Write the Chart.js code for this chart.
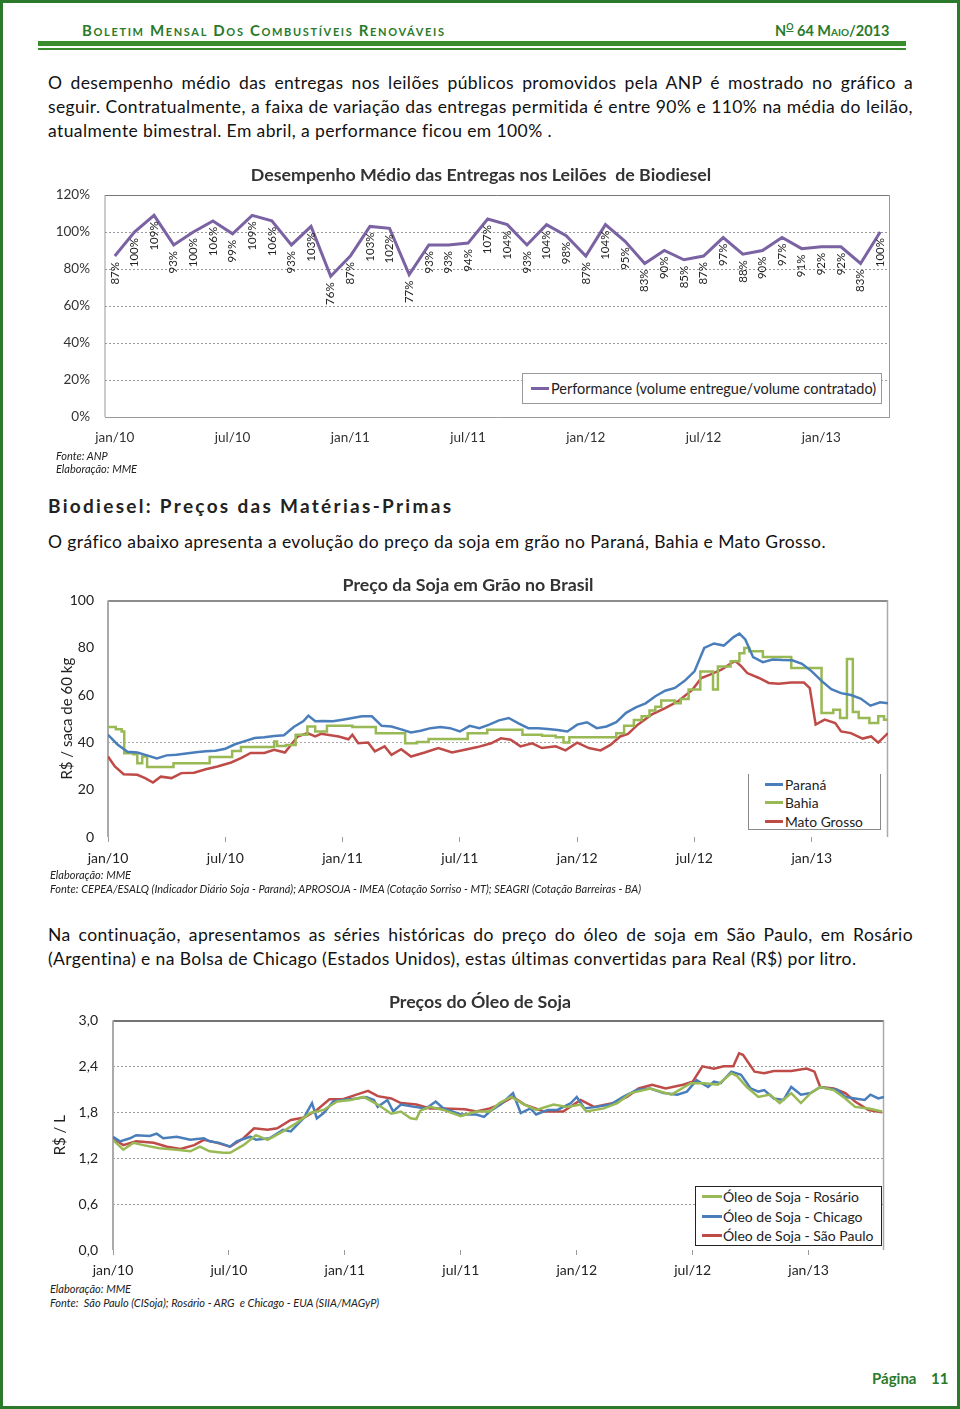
<!DOCTYPE html>
<html><head><meta charset="utf-8">
<script src="https://cdn.jsdelivr.net/npm/chart.js@4.4.0/dist/chart.umd.min.js"></script>
<style>
html,body{margin:0;padding:0;background:#fff;}
body{width:960px;height:1409px;position:relative;overflow:hidden;font-family:Lato,'Open Sans',sans-serif;color:#111;}
.frame{position:absolute;left:0;top:0;width:954px;height:1403px;border:3px solid #2b7a2b;}
.abs{position:absolute;white-space:nowrap;}
.ln{position:absolute;left:48px;width:865px;font-size:17.5px;letter-spacing:0.4px;line-height:24px;height:24px;color:#111;white-space:nowrap;}
.j{text-align:justify;text-align-last:justify;}
canvas{position:absolute;}
.src{position:absolute;font-style:italic;font-size:11px;color:#222;white-space:nowrap;line-height:14px;}
.ctitle{position:absolute;font-weight:bold;font-size:17.8px;color:#333;transform:translate(-50%,-50%);white-space:nowrap;}
.leg{position:absolute;background:#fff;color:#222;z-index:5;box-sizing:border-box;}
.leg .row{display:flex;align-items:center;white-space:nowrap;}
.leg .sw{display:inline-block;width:18px;height:3px;margin-right:2px;}
</style></head>
<body>
<div class="frame"></div>
<div class="abs" style="left:82px;top:21px;font-size:15px;font-weight:bold;font-variant:small-caps;letter-spacing:1.65px;color:#2a7a2a;">Boletim Mensal Dos Combustíveis Renováveis</div>
<div class="abs" style="left:775px;top:21px;font-size:14.5px;font-weight:bold;color:#2a7a2a;">N<sup style="font-size:9px;text-decoration:underline;">O</sup> 64 <span style="font-variant:small-caps;">Maio</span>/2013</div>
<div class="abs" style="left:38px;top:41px;width:868px;height:5px;background:#3a8a2e;"></div>
<div class="abs" style="left:38px;top:48px;width:868px;height:1.5px;background:#3a8a2e;"></div>

<div class="ln j" style="top:71px;">O desempenho médio das entregas nos leilões públicos promovidos pela ANP é mostrado no gráfico a</div>
<div class="ln j" style="top:95px;">seguir. Contratualmente, a faixa de variação das entregas permitida é entre 90% e 110% na média do leilão,</div>
<div class="ln" style="top:119px;">atualmente bimestral. Em abril, a performance ficou em 100% .</div>

<canvas id="c1" width="880" height="300" style="left:40px;top:150px;"></canvas>
<canvas id="c2" width="870" height="292" style="left:40px;top:578px;"></canvas>
<canvas id="c3" width="870" height="283" style="left:40px;top:997px;"></canvas>

<div class="ctitle" style="left:481px;top:174px;">Desempenho Médio das Entregas nos Leilões&nbsp; de Biodiesel</div>
<div class="src" style="left:56px;top:449px;">Fonte: ANP</div>
<div class="src" style="left:56px;top:462px;">Elaboração: MME</div>

<div class="abs" style="left:48px;top:494px;font-size:19px;font-weight:bold;letter-spacing:2.3px;color:#222;">Biodiesel: Preços das Matérias-Primas</div>
<div class="ln" style="top:530px;">O gráfico abaixo apresenta a evolução do preço da soja em grão no Paraná, Bahia e Mato Grosso.</div>

<div class="ctitle" style="left:468px;top:584px;">Preço da Soja em Grão no Brasil</div>
<div class="src" style="left:50px;top:868px;">Elaboração: MME</div>
<div class="src" style="left:50px;top:882px;">Fonte: CEPEA/ESALQ (Indicador Diário Soja - Paraná); APROSOJA - IMEA (Cotação Sorriso - MT); SEAGRI (Cotação Barreiras - BA)</div>

<div class="ln j" style="top:923px;">Na continuação, apresentamos as séries históricas do preço do óleo de soja em São Paulo, em Rosário</div>
<div class="ln" style="top:947px;">(Argentina) e na Bolsa de Chicago (Estados Unidos), estas últimas convertidas para Real (R$) por litro.</div>

<div class="ctitle" style="left:480px;top:1001px;">Preços do Óleo de Soja</div>
<div class="src" style="left:50px;top:1282px;">Elaboração: MME</div>
<div class="src" style="left:50px;top:1296px;">Fonte:&nbsp; São Paulo (CISoja); Rosário - ARG&nbsp; e Chicago - EUA (SIIA/MAGyP)</div>

<div class="leg" style="left:522px;top:373px;width:360px;height:31px;border:1px solid #9a9a9a;font-size:14.5px;padding:0 0 0 8px;">
  <div class="row" style="height:29px;"><span class="sw" style="background:#7a62a3"></span>Performance (volume entregue/volume contratado)</div>
</div>
<div class="leg" style="left:748px;top:774px;width:133px;height:56px;border:1px solid #8a8a8a;border-top:none;font-size:13.8px;padding:1px 0 0 16px;">
  <div class="row" style="height:18.5px;"><span class="sw" style="background:#4a7ebb"></span>Paraná</div>
  <div class="row" style="height:18.5px;"><span class="sw" style="background:#98b954"></span>Bahia</div>
  <div class="row" style="height:18.5px;"><span class="sw" style="background:#be4b48"></span>Mato Grosso</div>
</div>
<div class="leg" style="left:695px;top:1186px;width:187px;height:60px;border:1px solid #222;font-size:14px;padding:0 0 0 6px;">
  <div class="row" style="height:19.5px;"><span class="sw" style="background:#98b954;width:20px;margin-right:1px;"></span>Óleo de Soja - Rosário</div>
  <div class="row" style="height:19.5px;"><span class="sw" style="background:#4a7ebb;width:20px;margin-right:1px;"></span>Óleo de Soja - Chicago</div>
  <div class="row" style="height:19.5px;"><span class="sw" style="background:#be4b48;width:20px;margin-right:1px;"></span>Óleo de Soja - São Paulo</div>
</div>

<div class="abs" style="left:872px;top:1369px;font-size:15px;font-weight:bold;color:#2a7a2a;">Página</div>
<div class="abs" style="left:931px;top:1369px;font-size:15px;font-weight:bold;color:#2a7a2a;">11</div>

<script>
// ---------- Chart 1: desempenho médio das entregas ----------
const perfMonths = ['jan/10','fev/10','mar/10','abr/10','mai/10','jun/10','jul/10','ago/10','set/10','out/10','nov/10','dez/10',
  'jan/11','fev/11','mar/11','abr/11','mai/11','jun/11','jul/11','ago/11','set/11','out/11','nov/11','dez/11',
  'jan/12','fev/12','mar/12','abr/12','mai/12','jun/12','jul/12','ago/12','set/12','out/12','nov/12','dez/12',
  'jan/13','fev/13','mar/13','abr/13'];
const perfValues = [87,100,109,93,100,106,99,109,106,93,103,76,87,103,102,77,93,93,94,107,104,93,104,98,87,104,95,83,90,85,87,97,88,90,97,91,92,92,83,100];

// ---------- Chart 2: preço da soja (months since jan/10, R$/saca 60 kg) ----------
const halfYearPos = [0,6,12,18,24,30,36];
const halfYearLabels = ['jan/10','jul/10','jan/11','jul/11','jan/12','jul/12','jan/13'];
const paranaT = [0,0.5,1,1.5,2,2.5,3,3.5,4,4.5,5,5.5,6,6.5,7,7.5,8,8.5,9,9.5,10,10.25,10.6,11,11.5,12,12.5,13,13.5,14,14.5,15,15.5,16,16.5,17,17.5,18,18.5,19,19.5,20,20.5,21,21.5,22,22.5,23,23.5,24,24.5,25,25.5,26,26.5,27,27.5,28,28.5,29,29.5,30,30.5,31,31.5,32,32.3,32.6,33,33.5,34,34.5,35,35.5,36,36.5,37,37.5,38,38.5,39,39.5,39.9];
const paranaV = [43.2,39,36,35.7,34.5,33.2,34.5,34.8,35.3,35.8,36.2,36.5,37.3,39.2,40.5,41.8,42.2,42.7,43,46.5,49,51.3,48.9,49,48.9,49.6,50.3,51,51,47,46.7,45.5,44.2,44.9,46,46.5,46,44.6,47,46,47.5,49.3,50.3,48,46,46,45.6,45.2,44.6,47.5,48.5,46,46.7,48.5,52.5,54.8,56.5,59.5,61.8,63,66,70,79.9,81.8,80.9,84.5,86,83.5,76,73.9,75,74.8,74.7,73.2,70,66,62.5,60.8,60,58.5,55.5,56.9,56.5];
const bahiaT = [0,0.4,0.7,0.83,1.3,1.5,1.75,2.0,3.35,5.2,6.35,6.8,8.5,8.65,9.1,9.6,10.2,10.6,11.2,12.5,13.7,15.2,15.8,16.4,18.4,19.4,21.2,22.2,22.9,23.3,23.6,26.0,26.4,26.9,27.3,27.7,28.0,28.3,29.0,29.3,29.7,30.3,30.95,31.2,31.85,32.3,32.55,32.8,33.5,34.95,36.5,37.1,37.45,37.8,38.1,38.4,38.95,39.4,39.7,39.9];
const bahiaV = [46.5,45.5,44.6,35.4,35,31.2,34,29.6,31.2,33.8,36.4,38,40.4,38.5,38.9,43.2,46.7,44.6,47,46.5,43.9,39.6,40.2,41.4,43.9,45.3,43.2,42.8,42.2,39.9,42.2,43.9,47,49.5,51,53.5,55,57.7,56.5,58.3,62.3,70,62.3,72.1,74.3,77.7,79.9,78.5,76.1,71.4,52.4,53.8,50.3,75.2,52.8,50.3,48.2,51,49.6,49.6];
const mtT = [0,0.35,0.8,1.5,1.9,2.3,2.7,3.25,3.75,4.4,5,5.6,6.3,6.8,7.3,8,8.5,9.05,9.7,10.2,10.6,10.9,11.8,12.3,12.5,12.8,13.3,13.65,14.15,14.5,15,15.5,16.2,16.9,17.6,18.25,18.9,19.6,20.1,20.6,21.1,21.7,22.2,22.9,23.4,24,24.6,25.2,25.7,26.2,26.6,27.1,27.8,28.5,29.15,29.9,30.35,30.8,31.4,31.9,32.1,32.4,32.7,33.3,33.8,34.3,34.95,35.6,35.9,36.2,36.66,37.2,37.5,38,38.6,39.04,39.4,39.9];
const mtV = [34,29.8,26.5,26.3,24.9,23,25.5,24.9,27,27.2,28.6,29.8,31.5,33.3,35.5,35.5,36.9,35.7,42.5,43.9,42.5,43.6,42.5,41.3,43.2,39.6,39.9,36.2,38.3,34.7,37.1,34,35.7,37.6,35.7,36.9,38,39.6,41.7,41.1,38.3,39.6,37.6,38.3,36.6,39.9,37.6,36.6,38.9,42.5,43.6,47.5,51.7,54.5,57.3,62.3,67.2,68.6,70.8,73.6,74.3,72.1,69.3,67.2,65.1,64.8,65.3,65.3,62.9,47.5,49.6,48.2,44.6,43.9,41.6,42.5,39.9,43.9];

// ---------- Chart 3: preços do óleo de soja (R$/L) ----------
const oilYPos = [0,0.6,1.2,1.8,2.4,3.0];
const oilYLabels = ['0,0','0,6','1,2','1,8','2,4','3,0'];
const rosarioT = [0,0.53,1.05,1.57,2.4,3.3,4,4.5,5,5.7,6.06,6.75,7.4,8,8.8,9.5,10.2,10.9,11.6,12.3,12.97,13.7,14.4,14.9,15.4,15.7,15.9,16.4,17.1,18,18.8,19.5,20,20.6,21.3,21.9,22.8,23.5,24.2,24.5,25.4,26.1,26.8,27.8,28.9,29.9,30.6,31.3,32,32.3,32.8,33.4,34,34.5,35.1,35.6,36.1,36.6,37.3,37.9,38.4,39.1,39.8];
const rosarioV = [1.44,1.31,1.40,1.37,1.33,1.31,1.29,1.35,1.29,1.27,1.27,1.37,1.50,1.44,1.55,1.66,1.79,1.83,1.94,1.96,2.0,1.90,1.78,1.81,1.72,1.71,1.82,1.87,1.83,1.75,1.81,1.81,1.92,2.0,1.90,1.83,1.90,1.87,1.90,1.81,1.85,1.92,2.05,2.11,2.03,2.18,2.18,2.16,2.31,2.27,2.13,2.0,2.03,1.92,2.05,1.92,2.05,2.13,2.09,1.98,1.87,1.85,1.81];
const chicagoT = [0,0.36,0.88,1.2,1.9,2.26,2.6,3.3,4,4.7,5,5.5,6.06,6.4,7.1,7.4,8.1,8.8,9.2,9.86,10.3,10.55,10.9,11.4,11.9,12.6,13.1,13.5,13.7,14.2,14.5,14.9,15.6,16.2,16.7,17.1,18,18.8,19.2,19.5,20.05,20.7,21.1,21.6,21.9,22.5,23,23.7,24,24.4,25,25.75,26.4,27.1,27.8,28.5,29.2,29.7,30.2,30.8,31.1,31.45,32,32.5,33,33.4,33.7,34.2,34.7,35.1,35.6,36.1,36.6,37,37.5,37.9,38.4,38.9,39.2,39.6,39.9];
const chicagoV = [1.48,1.42,1.46,1.50,1.49,1.52,1.46,1.48,1.44,1.46,1.42,1.40,1.35,1.42,1.48,1.44,1.46,1.57,1.55,1.72,1.92,1.72,1.79,1.94,1.96,1.98,2.0,1.96,1.87,1.96,1.81,1.90,1.87,1.85,1.94,1.85,1.77,1.77,1.74,1.81,1.90,2.05,1.79,1.85,1.77,1.83,1.83,1.92,2.0,1.85,1.87,1.90,2.0,2.09,2.11,2.05,2.03,2.07,2.22,2.13,2.2,2.18,2.33,2.29,2.11,2.07,2.09,1.98,1.96,2.13,2.03,2.05,2.13,2.11,2.09,2.0,1.98,1.96,2.03,1.98,2.0];
const spT = [0,0.53,1.2,2.1,2.8,3.5,4.2,4.7,5.4,6.06,6.75,7.3,8,8.5,9.2,9.9,10.55,11.2,11.9,12.6,13.2,13.7,14.4,14.9,15.7,16.4,17.1,18.2,18.8,19.5,20,20.7,21.3,22.3,23.3,24.2,24.9,25.9,26.6,27.2,27.9,28.6,29.5,30,30.5,31.1,31.6,32.1,32.4,32.6,33.2,33.7,34.2,35.1,35.9,36.3,36.6,37.3,37.9,38.4,39.1,39.8];
const spV = [1.46,1.37,1.42,1.40,1.35,1.32,1.37,1.44,1.40,1.35,1.46,1.59,1.57,1.59,1.70,1.73,1.83,1.97,1.97,2.03,2.08,2.01,1.98,1.92,1.90,1.85,1.85,1.84,1.81,1.85,1.90,2.0,1.90,1.81,1.81,1.96,1.87,1.92,2.0,2.11,2.16,2.11,2.16,2.2,2.40,2.37,2.40,2.40,2.57,2.55,2.33,2.31,2.34,2.34,2.37,2.33,2.13,2.11,2.05,1.94,1.83,1.80];

const COL = {purple:'#7a62a3', blue:'#4a7ebb', green:'#98b954', red:'#be4b48'};
Chart.defaults.font.family = 'Lato, "Open Sans", sans-serif';
Chart.defaults.color = '#222';

const pairs = (T, V) => T.map((t, i) => ({x: t, y: V[i]}));

const framePlugin = {
  id: 'frame',
  beforeDatasetsDraw(chart, args, o) {
    const a = chart.chartArea, c = chart.ctx;
    c.save();
    c.setLineDash([]);
    const seg = (s, x1, y1, x2, y2) => {
      if (!s) return;
      c.strokeStyle = s[0]; c.lineWidth = s[1];
      c.beginPath(); c.moveTo(x1, y1); c.lineTo(x2, y2); c.stroke();
    };
    seg(o.top, a.left, a.top + 0.5, a.right, a.top + 0.5);
    seg(o.bottom, a.left, a.bottom + 0.5, a.right, a.bottom + 0.5);
    seg(o.left, a.left, a.top, a.left, a.bottom);
    seg(o.right, a.right - 0.5, a.top, a.right - 0.5, a.bottom);
    c.restore();
  }
};

const pctLabels = {
  id: 'pctLabels',
  afterDatasetsDraw(chart) {
    const meta = chart.getDatasetMeta(0), c = chart.ctx, vals = chart.data.datasets[0].data;
    c.save();
    c.font = '11.5px Lato, sans-serif';
    c.fillStyle = '#222';
    c.textAlign = 'right';
    c.textBaseline = 'middle';
    meta.data.forEach((pt, i) => {
      c.save();
      c.translate(pt.x, pt.y + 6);
      c.rotate(-Math.PI / 2);
      c.fillText(vals[i] + '%', 0, 0);
      c.restore();
    });
    c.restore();
  }
};

const fixW = w => s => { s.width = w; };
const fixH = h => s => { s.height = h; };

// Chart 1
new Chart(document.getElementById('c1'), {
  type: 'line',
  data: { labels: perfMonths, datasets: [{ label: 'Performance (volume entregue/volume contratado)', data: perfValues, borderColor: COL.purple, borderWidth: 3, pointRadius: 0, tension: 0, fill: false }] },
  options: {
    responsive: false, animation: false, devicePixelRatio: 1,
    layout: { padding: { top: 45, right: 30, left: 0, bottom: 0 } },
    plugins: { legend: { display: false }, tooltip: { enabled: false },
      frame: { top: ['#777', 1], bottom: ['#999', 1], left: ['#999', 1], right: ['#999', 1] } },
    scales: {
      x: { type: 'category', offset: true, afterFit: fixH(33),
        grid: { display: false }, border: { display: false },
        ticks: { autoSkip: false, maxRotation: 0, minRotation: 0, padding: 5, font: { size: 13.5 }, color: '#333',
          callback: (v, i) => (i % 6 === 0 ? perfMonths[i] : '') } },
      y: { min: 0, max: 120, afterFit: fixW(65),
        grid: { drawTicks: false, color: c => (c.tick.value > 0 && c.tick.value < 120 ? '#9a9a9a' : 'rgba(0,0,0,0)') },
        border: { display: false, dash: [2, 2] },
        ticks: { stepSize: 20, padding: 15, font: { size: 13.5 }, color: '#333', callback: v => v + '%' } }
    }
  },
  plugins: [framePlugin, pctLabels]
});

const timeAxis = (h, pad) => ({
  type: 'linear', min: 0, max: 39.9, afterFit: fixH(h),
  afterBuildTicks: s => { s.ticks = halfYearPos.map(v => ({ value: v })); },
  grid: { drawOnChartArea: false, drawTicks: true, tickLength: 5, color: '#9a9a9a' },
  border: { display: false },
  ticks: { padding: pad, font: { size: 14 }, color: '#222', autoSkip: false, maxRotation: 0,
    callback: v => halfYearLabels[halfYearPos.indexOf(v)] }
});

const lineDs = (label, data, color, extra) => Object.assign({ label, data, borderColor: color, borderWidth: 2.5, pointRadius: 0, tension: 0, fill: false }, extra || {});

// Chart 2
new Chart(document.getElementById('c2'), {
  type: 'line',
  data: { datasets: [
    lineDs('Paraná', pairs(paranaT, paranaV), COL.blue),
    lineDs('Bahia', pairs(bahiaT, bahiaV), COL.green, { stepped: 'before' }),
    lineDs('Mato Grosso', pairs(mtT, mtV), COL.red)
  ] },
  options: {
    responsive: false, animation: false, devicePixelRatio: 1, parsing: false,
    layout: { padding: { top: 11, right: 22, left: 0, bottom: 0 } },
    plugins: { legend: { display: false }, tooltip: { enabled: false },
      frame: { top: ['#666', 1.5], left: ['#aaa', 2], right: ['#aaa', 1.5] } },
    scales: {
      x: timeAxis(33, 8),
      y: { min: 0, max: 100, afterFit: fixW(68),
        grid: { drawTicks: false, color: c => (c.tick.value === 40 ? '#aaa' : 'rgba(0,0,0,0)') },
        border: { display: false, dash: [2, 2] },
        title: { display: true, text: 'R$ / saca de 60 kg', font: { size: 15 }, color: '#222', padding: { top: 18, bottom: 0 } },
        ticks: { stepSize: 20, padding: 14, font: { size: 14 }, color: '#222' } }
    }
  },
  plugins: [framePlugin]
});

// Chart 3
new Chart(document.getElementById('c3'), {
  type: 'line',
  data: { datasets: [
    lineDs('Óleo de Soja - Rosário', pairs(rosarioT, rosarioV), COL.green),
    lineDs('Óleo de Soja - Chicago', pairs(chicagoT, chicagoV), COL.blue),
    lineDs('Óleo de Soja - São Paulo', pairs(spT, spV), COL.red)
  ] },
  options: {
    responsive: false, animation: false, devicePixelRatio: 1, parsing: false,
    layout: { padding: { top: 10, right: 26, left: 0, bottom: 0 } },
    plugins: { legend: { display: false }, tooltip: { enabled: false },
      frame: { top: ['#444', 1.5], left: ['#aaa', 2], right: ['#aaa', 1.5] } },
    scales: {
      x: timeAxis(30, 7),
      y: { min: 0, max: 3.0, afterFit: fixW(73),
        afterBuildTicks: s => { s.ticks = oilYPos.map(v => ({ value: v })); },
        grid: { drawTicks: false, color: c => (c.index > 0 && c.index < 5 ? '#9a9a9a' : 'rgba(0,0,0,0)') },
        border: { display: false, dash: [2, 2] },
        title: { display: true, text: 'R$ / L', font: { size: 15 }, color: '#222', padding: { top: 11, bottom: 0 } },
        ticks: { padding: 15, font: { size: 14 }, color: '#222', callback: (v, i) => oilYLabels[i] } }
    }
  },
  plugins: [framePlugin]
});
</script>
</body></html>
